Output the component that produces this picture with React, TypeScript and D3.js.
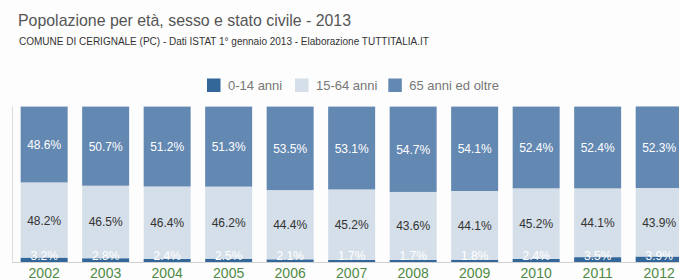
import React, { useEffect, useRef } from "react";
import * as d3 from "d3";

// anni e percentuali
const years = ["2002", "2003", "2004", "2005", "2006", "2007", "2008", "2009", "2010", "2011", "2012"];
const young = [3.2, 2.8, 2.4, 2.5, 2.1, 1.7, 1.7, 1.8, 2.4, 3.5, 3.9];
const adult = [48.2, 46.5, 46.4, 46.2, 44.4, 45.2, 43.6, 44.1, 45.2, 44.1, 43.9];
const old = [48.6, 50.7, 51.2, 51.3, 53.5, 53.1, 54.7, 54.1, 52.4, 52.4, 52.3];
const seriesNames = ["0-14 anni", "15-64 anni", "65 anni ed oltre"];

const W = 679;
const H = 280;
const FONT = "Helvetica, Arial, 'Liberation Sans', sans-serif";

const App = () => {
  const svgRef = useRef<SVGSVGElement | null>(null);

  useEffect(() => {
    const svg = d3.select(svgRef.current);
    svg.selectAll("*").remove();

    const colors = ["#336799", "#d5dfe9", "#6388b2"];
    const labelColors = ["#ffffff", "#333333", "#ffffff"];

    const rows = years.map((y, i) => ({ year: y, s0: young[i], s1: adult[i], s2: old[i] }));
    const stacked = d3.stack<any>().keys(["s0", "s1", "s2"])(rows);

    const x = d3
      .scaleBand()
      .domain(years)
      .range([13.4, 13.4 + 61.5 * years.length])
      .paddingInner(0.236)
      .paddingOuter(0.118);

    const y = d3.scaleLinear().domain([0, 100]).range([262.6, 106.6]);

    // baseline delle etichette: quelle 0-14 non scendono sotto 260 (anni sotto)
    const labelY = (d: any, li: number) => {
      const mid = (y(d[0]) + y(d[1])) / 2 + 4.5;
      return li === 0 ? Math.min(mid - 1, 259.5) : mid;
    };

    svg.append("rect").attr("width", W).attr("height", H).attr("fill", "#fdfdfd");

    // area del grafico: le etichette piccole vengono tagliate all'asse
    svg
      .append("defs")
      .append("clipPath")
      .attr("id", "plot-clip")
      .append("rect")
      .attr("x", 0)
      .attr("y", 100)
      .attr("width", W)
      .attr("height", 162.5);

    // titoli
    svg
      .append("text")
      .attr("x", 18)
      .attr("y", 26)
      .attr("font-family", FONT)
      .attr("font-size", 15.9)
      .attr("fill", "#555")
      .text("Popolazione per età, sesso e stato civile - 2013");
    svg
      .append("text")
      .attr("x", 19)
      .attr("y", 44.5)
      .attr("font-family", FONT)
      .attr("font-size", 10)
      .attr("fill", "#333")
      .text("COMUNE DI CERIGNALE (PC) - Dati ISTAT 1° gennaio 2013 - Elaborazione TUTTITALIA.IT");

    // legenda
    const legendX = [207, 295, 388.3];
    const legend = svg
      .append("g")
      .selectAll("g")
      .data(seriesNames)
      .join("g")
      .attr("transform", (_, i) => `translate(${legendX[i]},78.5)`);
    legend
      .append("rect")
      .attr("width", 13.5)
      .attr("height", 13.5)
      .attr("fill", (_, i) => colors[i]);
    legend
      .append("text")
      .attr("x", 21)
      .attr("y", 11.5)
      .attr("font-family", FONT)
      .attr("font-size", 13)
      .attr("fill", "#777")
      .text((d) => d);

    // barre
    const layers = svg
      .append("g")
      .selectAll("g")
      .data(stacked)
      .join("g")
      .attr("fill", (_, i) => colors[i]);
    layers
      .selectAll("rect")
      .data((d) => d)
      .join("rect")
      .attr("x", (d: any) => x(d.data.year)!)
      .attr("width", x.bandwidth())
      .attr("y", (d) => y(d[1]))
      .attr("height", (d) => y(d[0]) - y(d[1]));

    // etichette
    const labels = svg.append("g").attr("clip-path", "url(#plot-clip)");
    stacked.forEach((layer, li) => {
      labels
        .append("g")
        .selectAll("text")
        .data(layer)
        .join("text")
        .attr("x", (d: any) => x(d.data.year)! + x.bandwidth() / 2)
        .attr("y", (d) => labelY(d, li))
        .attr("text-anchor", "middle")
        .attr("font-family", FONT)
        .attr("font-size", 12)
        .attr("fill", labelColors[li])
        .text((d) => (d[1] - d[0]).toFixed(1) + "%");
    });

    // assi
    svg
      .append("line")
      .attr("x1", 12.5)
      .attr("x2", 12.5)
      .attr("y1", 106)
      .attr("y2", 263)
      .attr("stroke", "#dcdcdc");
    svg
      .append("line")
      .attr("x1", 12.5)
      .attr("x2", W)
      .attr("y1", 262.5)
      .attr("y2", 262.5)
      .attr("stroke", "#d0d0d0");

    svg
      .append("g")
      .selectAll("text")
      .data(years)
      .join("text")
      .attr("x", (d) => x(d)! + x.bandwidth() / 2)
      .attr("y", 277.5)
      .attr("text-anchor", "middle")
      .attr("font-family", FONT)
      .attr("font-size", 14)
      .attr("fill", "#4f8a45")
      .text((d) => d);
  }, []);

  return (
    <svg
      ref={svgRef}
      width={W}
      height={H}
      style={{ position: "absolute", left: 0, top: 0, display: "block" }}
    ></svg>
  );
};

export default App;
